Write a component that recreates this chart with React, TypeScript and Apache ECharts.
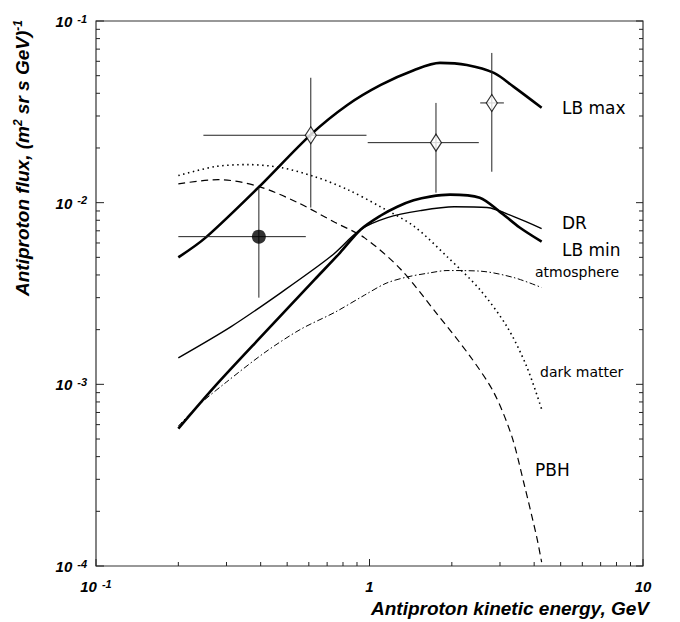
import React, { useEffect, useRef } from "react";
import * as echarts from "echarts";

// ---- Data (energy in GeV, flux in (m^2 sr s GeV)^-1) ----
const lbMaxE = [0.2, 0.251, 0.392, 0.61, 0.83, 1.1, 1.46, 1.81, 2.27, 2.85, 3.37, 4.26];
const lbMaxF = [0.005, 0.0064, 0.0121, 0.0237, 0.0345, 0.0445, 0.0538, 0.0588, 0.0573, 0.0518, 0.0434, 0.0333];

const lbMinE = [0.2, 0.273, 0.415, 0.631, 0.78, 0.927, 1.1, 1.264, 1.45, 1.667, 1.97, 2.53, 2.99, 3.54, 4.26];
const lbMinF = [0.00057, 0.00098, 0.00193, 0.00378, 0.0053, 0.0071, 0.0085, 0.0095, 0.0103, 0.0108, 0.01107, 0.01064, 0.00893, 0.0073, 0.0061];

const drE = [0.2, 0.312, 0.475, 0.721, 0.927, 1.163, 1.533, 2.04, 2.69, 3.37, 4.26];
const drF = [0.0014, 0.00208, 0.0032, 0.00505, 0.0071, 0.00828, 0.00904, 0.0095, 0.0094, 0.00837, 0.0072];

const atmE = [0.2, 0.24, 0.3, 0.415, 0.557, 0.75, 0.96, 1.15, 1.374, 1.65, 1.92, 2.53, 3.37, 4.26];
const atmF = [0.00059, 0.00078, 0.00103, 0.0015, 0.002, 0.0025, 0.0031, 0.0036, 0.0039, 0.0041, 0.00423, 0.0042, 0.00387, 0.00341];

const dmE = [0.2, 0.273, 0.36, 0.475, 0.631, 0.832, 1.096, 1.457, 1.92, 2.53, 3.18, 3.75, 4.26];
const dmF = [0.0141, 0.0158, 0.0162, 0.0156, 0.0139, 0.0118, 0.0095, 0.0074, 0.00505, 0.00333, 0.00208, 0.00126, 0.00073];

const pbhE = [0.2, 0.28, 0.392, 0.547, 0.746, 0.96, 1.3, 1.77, 2.33, 2.85, 3.31, 3.66, 4.08, 4.26];
const pbhF = [0.0127, 0.0134, 0.0123, 0.01, 0.0078, 0.0064, 0.0043, 0.00243, 0.00143, 0.0009, 0.00052, 0.00029, 0.000146, 0.000105];

// measurements: [E, flux, Elow, Ehigh, fluxLow, fluxHigh]
const circlePoints = [[0.394, 0.0065, 0.2, 0.585, 0.003, 0.0121]];
const diamondPoints = [
  [0.61, 0.0235, 0.247, 0.975, 0.0094, 0.0487],
  [1.75, 0.0214, 0.985, 2.51, 0.01135, 0.0354],
  [2.8, 0.0354, 2.54, 3.1, 0.0148, 0.0667],
];

const X_MIN = 0.1;
const X_MAX = 10;
const Y_MIN = 0.0001;
const Y_MAX = 0.1;
const xMajor = [0.1, 1, 10];
const xMinor = [0.2, 0.3, 0.4, 0.5, 0.6, 0.7, 0.8, 0.9, 2, 3, 4, 5, 6, 7, 8, 9];
const yMajor = [0.0001, 0.001, 0.01, 0.1];
const yMinor = [
  0.0002, 0.0003, 0.0004, 0.0005, 0.0006, 0.0007, 0.0008, 0.0009,
  0.002, 0.003, 0.004, 0.005, 0.006, 0.007, 0.008, 0.009,
  0.02, 0.03, 0.04, 0.05, 0.06, 0.07, 0.08, 0.09,
];

const curveLabels = [
  { text: "LB max", x: 562, y: 108, size: 17 },
  { text: "DR", x: 562, y: 223, size: 17 },
  { text: "LB min", x: 562, y: 250, size: 17 },
  { text: "atmosphere", x: 535, y: 272, size: 14 },
  { text: "dark matter", x: 540, y: 372, size: 14 },
  { text: "PBH", x: 535, y: 470, size: 17 },
];

const zip = (a: number[], b: number[]) => a.map((v, i) => [v, b[i]]);

const axisFont = {
  fontFamily: "Liberation Sans",
  fontWeight: "bold" as const,
  fontStyle: "italic" as const,
  color: "#000",
};
const supRich = {
  b: { ...axisFont, fontSize: 15, lineHeight: 16, verticalAlign: "bottom" as const },
  s: { ...axisFont, fontSize: 11, lineHeight: 12, verticalAlign: "top" as const, padding: [0, 0, 12, 5] },
};
const expOf = (v: number) => Math.round(Math.log10(v));
const isMajor = (v: number) => Math.abs(Math.log10(v) - expOf(v)) < 1e-6;

const GRID = { left: 96, right: 37, top: 21, bottom: 56 };

export default function App() {
  const ref = useRef<HTMLDivElement>(null);
  useEffect(() => {
    const chart = echarts.init(ref.current!, null, { renderer: "svg" });
    const logX = { type: "log" as const, logBase: 10, min: X_MIN, max: X_MAX };
    const logY = { type: "log" as const, logBase: 10, min: Y_MIN, max: Y_MAX };
    const noShow = { show: false };
    const lineSeries = (name: string, e: number[], f: number[], width: number, type: any) => ({
      name,
      type: "line",
      data: zip(e, f),
      smooth: 0.3,
      showSymbol: false,
      symbol: "none",
      lineStyle: { color: "#000", width, type },
      z: 3,
    });
    const errorBars = (data: number[][]) => ({
      type: "custom",
      data,
      encode: { x: 0, y: 1 },
      z: 4,
      renderItem: (_p: any, api: any) => {
        const c = api.coord([api.value(0), api.value(1)]);
        const xl = api.coord([api.value(2), api.value(1)]);
        const xh = api.coord([api.value(3), api.value(1)]);
        const yl = api.coord([api.value(0), api.value(4)]);
        const yh = api.coord([api.value(0), api.value(5)]);
        return {
          type: "group",
          children: [
            { type: "line", shape: { x1: xl[0], y1: c[1], x2: xh[0], y2: c[1] }, style: { stroke: "#222", lineWidth: 1 } },
            { type: "line", shape: { x1: c[0], y1: yl[1], x2: c[0], y2: yh[1] }, style: { stroke: "#222", lineWidth: 1 } },
          ],
        };
      },
    });
    // frame ticks: [E, flux, kind] at the grid edges, placed through the axes' scales
    const tickData = [
      ...[...xMajor, ...xMinor].map((v) => [v, Y_MIN, 0]),
      ...[...yMajor, ...yMinor].map((v) => [X_MIN, v, 1]),
    ];
    const tickSeries = {
      type: "custom",
      data: tickData,
      encode: { x: 0, y: 1 },
      clip: false,
      silent: true,
      z: 6,
      renderItem: (_p: any, api: any) => {
        const isY = api.value(2) === 1;
        if (!isY) {
          const v = api.value(0);
          const p = api.coord([v, Y_MIN]);
          const len = isMajor(v) ? 7 : 4;
          return {
            type: "group",
            children: [
              { type: "line", shape: { x1: p[0], y1: p[1], x2: p[0], y2: p[1] - len }, style: { stroke: "#222", lineWidth: 1 } },
            ],
          };
        }
        const v = api.value(1);
        const l = api.coord([X_MIN, v]);
        const r = api.coord([X_MAX, v]);
        const major = isMajor(v);
        const ll = major ? 8 : 4;
        const rl = major ? 7 : 4;
        return {
          type: "group",
          children: [
            { type: "line", shape: { x1: l[0], y1: l[1], x2: l[0] + ll, y2: l[1] }, style: { stroke: "#222", lineWidth: 1 } },
            { type: "line", shape: { x1: r[0], y1: r[1], x2: r[0] - rl, y2: r[1] }, style: { stroke: "#222", lineWidth: 1 } },
          ],
        };
      },
    };
    chart.setOption({
      animation: false,
      backgroundColor: "#fff",
      grid: { ...GRID, show: true, borderColor: "#333", borderWidth: 1.2, backgroundColor: "transparent" },
      xAxis: {
        ...logX,
        position: "bottom",
        axisLine: noShow,
        splitLine: noShow,
        axisTick: noShow,
        minorTick: noShow,
        axisLabel: {
          customValues: xMajor,
          margin: 12,
          formatter: (v: number) => {
            const n = expOf(v);
            return n === 0 ? "{b|1}" : n === 1 ? "{b|10}" : `{b|10}{s|${n}}`;
          },
          rich: supRich,
        },
      },
      yAxis: {
        ...logY,
        position: "left",
        axisLine: noShow,
        splitLine: noShow,
        axisTick: noShow,
        minorTick: noShow,
        axisLabel: {
          customValues: yMajor,
          margin: 9,
          formatter: (v: number) => `{b|10}{s|${expOf(v)}}`,
          rich: supRich,
        },
      },
      graphic: [
        {
          type: "text",
          x: 22,
          y: 296,
          rotation: Math.PI / 2,
          style: {
            text: "{t|Antiproton flux, (m}{s|2}{t| sr s GeV)}{s|-1}",
            align: "left",
            verticalAlign: "middle",
            rich: {
              t: { ...axisFont, fontSize: 19, lineHeight: 20, verticalAlign: "bottom" },
              s: { ...axisFont, fontSize: 12, lineHeight: 13, verticalAlign: "top", padding: [0, 0, 11, 0] },
            },
          },
        },
        {
          type: "text",
          x: 649,
          y: 608,
          style: {
            text: "Antiproton kinetic energy, GeV",
            align: "right",
            verticalAlign: "middle",
            ...axisFont,
            fontSize: 19,
          },
        },
        ...curveLabels.map((l) => ({
          type: "text",
          x: l.x,
          y: l.y,
          style: {
            text: l.text,
            align: "left",
            verticalAlign: "middle",
            fontFamily: "DejaVu Sans",
            fontSize: l.size,
            fill: "#000",
          },
        })),
      ],
      series: [
        lineSeries("LB max", lbMaxE, lbMaxF, 2.6, "solid"),
        lineSeries("LB min", lbMinE, lbMinF, 2.6, "solid"),
        lineSeries("DR", drE, drF, 1.4, "solid"),
        lineSeries("atmosphere", atmE, atmF, 1, [6, 2.5, 1.5, 2.5]),
        lineSeries("dark matter", dmE, dmF, 1.6, [1.5, 3.5]),
        lineSeries("PBH", pbhE, pbhF, 1.2, [7, 4.5]),
        errorBars(circlePoints),
        errorBars(diamondPoints),
        {
          type: "scatter",
          data: circlePoints.map((p) => [p[0], p[1]]),
          symbol: "circle",
          symbolSize: 14,
          itemStyle: { color: "#000" },
          z: 5,
        },
        {
          type: "scatter",
          data: diamondPoints.map((p) => [p[0], p[1]]),
          symbol: "diamond",
          symbolSize: [11, 17],
          itemStyle: { color: "#fff", borderColor: "#000", borderWidth: 1.2 },
          z: 5,
        },
        tickSeries,
      ],
    });
    return () => chart.dispose();
  }, []);
  return (
    <div
      ref={ref}
      style={{ position: "absolute", left: 0, top: 0, width: 680, height: 622, background: "#fff" }}
    />
  );
}
